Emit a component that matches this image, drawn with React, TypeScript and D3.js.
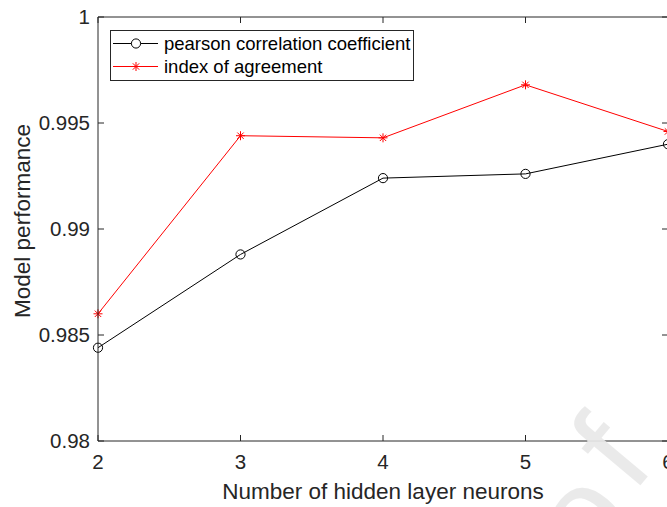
import React from "react";
import * as d3 from "d3";

const neurons = [2, 3, 4, 5, 6];
const pearson = [0.9844, 0.9888, 0.9924, 0.9926, 0.994];
const agreement = [0.986, 0.9944, 0.9943, 0.9968, 0.9946];
const xTicks = [2, 3, 4, 5, 6];
const yTicks = [0.98, 0.985, 0.99, 0.995, 1];
const yTickLabels = ["0.98", "0.985", "0.99", "0.995", "1"];
const seriesNames = ["pearson correlation coefficient", "index of agreement"];

const W = 667;
const H = 507;
const L = 98, R = 668, T = 17, B = 441;
const AX = "#262626";
const FONT = "'Liberation Sans', Arial, Helvetica, sans-serif";

function Star({ x, y, r, color }: { x: number; y: number; r: number; color: string }) {
  const d = r * 0.7071;
  return (
    <g stroke={color} strokeWidth={1}>
      <line x1={x - r} y1={y} x2={x + r} y2={y} />
      <line x1={x} y1={y - r} x2={x} y2={y + r} />
      <line x1={x - d} y1={y - d} x2={x + d} y2={y + d} />
      <line x1={x - d} y1={y + d} x2={x + d} y2={y - d} />
    </g>
  );
}

export default function App() {
  const x = d3.scaleLinear().domain([2, 6]).range([L, R]);
  const y = d3.scaleLinear().domain([0.98, 1]).range([B, T]);
  const line = d3
    .line<number>()
    .x((_, i) => x(neurons[i]))
    .y((v) => y(v));
  const tl = 6;

  return (
    <svg
      width={W}
      height={H}
      style={{ position: "absolute", left: 0, top: 0, background: "#fff" }}
      fontFamily={FONT}
    >
      <rect x={0} y={0} width={W} height={H} fill="#fff" />
      <path d={line(pearson) || ""} fill="none" stroke="#000" strokeWidth={1} />
      <path d={line(agreement) || ""} fill="none" stroke="#ff0000" strokeWidth={1} />
      {pearson.map((v, i) => (
        <circle key={"p" + i} cx={x(neurons[i])} cy={y(v)} r={4.6} fill="none" stroke="#000" strokeWidth={1} />
      ))}
      {agreement.map((v, i) => (
        <Star key={"a" + i} x={x(neurons[i])} y={y(v)} r={4.5} color="#ff0000" />
      ))}
      <g stroke={AX} strokeWidth={1} fill="none">
        <line x1={L} y1={B} x2={R} y2={B} />
        <line x1={L} y1={T} x2={R} y2={T} />
        <line x1={L} y1={T} x2={L} y2={B} />
        <line x1={R} y1={T} x2={R} y2={B} />
        {xTicks.map((t) => (
          <g key={"xt" + t}>
            <line x1={x(t)} y1={B} x2={x(t)} y2={B - tl} />
            <line x1={x(t)} y1={T} x2={x(t)} y2={T + tl} />
          </g>
        ))}
        {yTicks.map((t) => (
          <g key={"yt" + t}>
            <line x1={L} y1={y(t)} x2={L + tl} y2={y(t)} />
            <line x1={R} y1={y(t)} x2={R - tl} y2={y(t)} />
          </g>
        ))}
      </g>
      {xTicks.map((t) => (
        <text key={"xl" + t} x={x(t)} y={B + 28} fontSize={20.5} fill={AX} textAnchor="middle">
          {t}
        </text>
      ))}
      {yTicks.map((t, i) => (
        <text key={"yl" + t} x={L - 8} y={y(t) + 7} fontSize={20.5} fill={AX} textAnchor="end">
          {yTickLabels[i]}
        </text>
      ))}
      <text x={(L + R) / 2 - 0} y={499} fontSize={22.5} fill={AX} textAnchor="middle">
        Number of hidden layer neurons
      </text>
      <text
        transform={`translate(30, ${(T + B) / 2 - 8}) rotate(-90)`}
        fontSize={22.5}
        fill={AX}
        textAnchor="middle"
      >
        Model performance
      </text>
      <rect x={110.5} y={30.5} width={303} height={50} fill="#fff" stroke={AX} strokeWidth={1} />
      <line x1={113} y1={43.5} x2={158} y2={43.5} stroke="#000" strokeWidth={1} />
      <circle cx={136} cy={43.5} r={4.6} fill="#fff" stroke="#000" strokeWidth={1} />
      <text x={164} y={50} fontSize={18.5} fill="#000">
        {seriesNames[0]}
      </text>
      <line x1={113} y1={66.5} x2={158} y2={66.5} stroke="#ff0000" strokeWidth={1} />
      <Star x={136} y={66.5} r={4.5} color="#ff0000" />
      <text x={164} y={73} fontSize={18.5} fill="#000">
        {seriesNames[1]}
      </text>
      {/* watermark */}
      <g fill="#e8e8e8" fillOpacity={0.92} fontSize={130}>
        <text transform="rotate(-50, 588, 523)" x={588} y={557} textAnchor="middle">
          o
        </text>
        <text transform="translate(633, 494) rotate(-50)" x={0} y={0}>
          f
        </text>
      </g>
    </svg>
  );
}
